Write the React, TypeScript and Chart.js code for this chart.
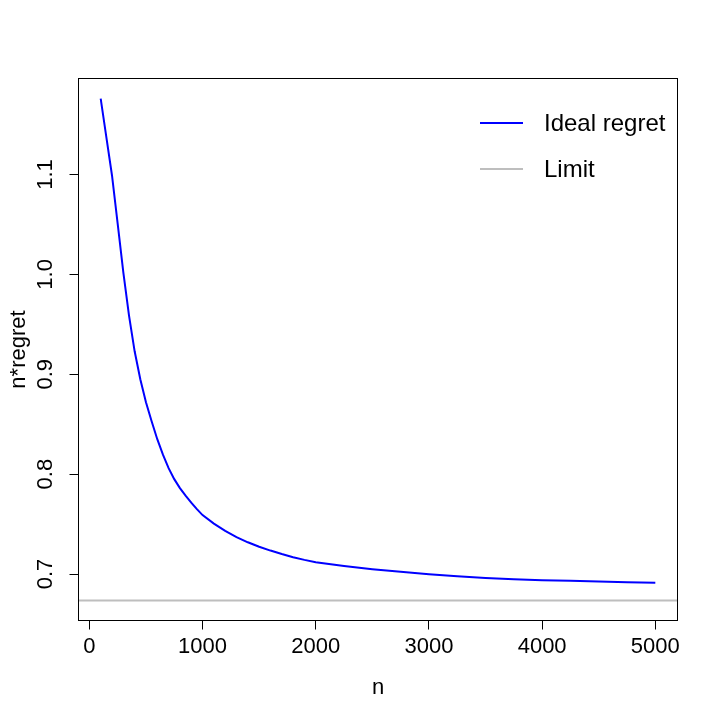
import React, { useEffect, useRef } from "react";
import { Chart, registerables } from "chart.js";

Chart.register(...registerables);

const nValues = [100, 150, 200, 250, 300, 350, 400, 450, 500, 550, 600, 650, 700, 750, 800, 850, 900, 950, 1000, 1100, 1200, 1300, 1400, 1500, 1600, 1700, 1800, 1900, 2000, 2250, 2500, 2750, 3000, 3250, 3500, 3750, 4000, 4250, 4500, 4750, 5000];
const idealRegret = [1.176, 1.1375, 1.099, 1.0507, 1.002, 0.959, 0.923, 0.895, 0.872, 0.853, 0.835, 0.8195, 0.806, 0.795, 0.786, 0.7785, 0.7715, 0.765, 0.759, 0.7505, 0.7432, 0.737, 0.7318, 0.7273, 0.7235, 0.72, 0.7169, 0.7142, 0.7118, 0.708, 0.7048, 0.7022, 0.6998, 0.6978, 0.6961, 0.6948, 0.6939, 0.6932, 0.6926, 0.6919, 0.6912];
const limitValue = 0.6736;
const xTicks = [0, 1000, 2000, 3000, 4000, 5000];
const yTicks = [0.7, 0.8, 0.9, 1.0, 1.1];
const yTickLabels = ["0.7", "0.8", "0.9", "1.0", "1.1"];
const xMin = -96;
const xMax = 5196;
const yMin = 0.6535;
const yMax = 1.1961;
const legendLabels = ["Ideal regret", "Limit"];
const xTitle = "n";
const yTitle = "n*regret";

const FONT = "22px 'Liberation Sans', Arial, sans-serif";
const LEGEND_FONT = "24px 'Liberation Sans', Arial, sans-serif";

const rPlot = {
  id: "rPlot",
  afterDraw(chart: any) {
    const ctx = chart.ctx;
    const a = chart.chartArea;
    const xs = chart.scales.x;
    const ys = chart.scales.y;
    ctx.save();
    ctx.strokeStyle = "#000";
    ctx.lineWidth = 1;
    ctx.strokeRect(a.left, a.top, a.right - a.left, a.bottom - a.top);
    ctx.fillStyle = "#000";
    ctx.font = FONT;
    ctx.textAlign = "center";
    ctx.textBaseline = "middle";
    xTicks.forEach((v) => {
      ctx.fillText(String(v), xs.getPixelForValue(v), 647);
    });
    yTicks.forEach((v, i) => {
      ctx.save();
      ctx.translate(46, ys.getPixelForValue(v));
      ctx.rotate(-Math.PI / 2);
      ctx.fillText(yTickLabels[i], 0, 0);
      ctx.restore();
    });
    ctx.fillText(xTitle, (a.left + a.right) / 2, 688);
    ctx.save();
    ctx.translate(19, (a.top + a.bottom) / 2);
    ctx.rotate(-Math.PI / 2);
    ctx.fillText(yTitle, 0, 0);
    ctx.restore();
    // legend
    const colors = ["#0000ff", "#bebebe"];
    const ly = [123, 169];
    ctx.lineWidth = 2;
    ctx.font = LEGEND_FONT;
    legendLabels.forEach((lab, i) => {
      ctx.strokeStyle = colors[i];
      ctx.beginPath();
      ctx.moveTo(480, ly[i]);
      ctx.lineTo(523, ly[i]);
      ctx.stroke();
      ctx.textAlign = "left";
      ctx.fillStyle = "#000";
      ctx.fillText(lab, 544, ly[i] + 1.5);
    });
    ctx.restore();
  },
};

export default function App() {
  const ref = useRef<HTMLCanvasElement | null>(null);
  useEffect(() => {
    if (!ref.current) return;
    const chart = new Chart(ref.current, {
      type: "line",
      data: {
        datasets: [
          {
            label: legendLabels[0],
            data: nValues.map((n, i) => ({ x: n, y: idealRegret[i] })),
            borderColor: "#0000ff",
            borderWidth: 2,
            pointRadius: 0,
            tension: 0,
            fill: false,
          },
          {
            label: legendLabels[1],
            data: [
              { x: xMin, y: limitValue },
              { x: xMax, y: limitValue },
            ],
            borderColor: "#bebebe",
            borderWidth: 2,
            pointRadius: 0,
            fill: false,
          },
        ],
      },
      options: {
        animation: false,
        responsive: false,
        maintainAspectRatio: false,
        events: [],
        layout: { padding: { left: 0, right: 40.5, top: 78.5, bottom: 0 } },
        plugins: { legend: { display: false }, tooltip: { enabled: false } },
        scales: {
          x: {
            type: "linear",
            min: xMin,
            max: xMax,
            afterBuildTicks: (s: any) => {
              s.ticks = xTicks.map((v) => ({ value: v }));
            },
            afterFit: (s: any) => {
              s.height = 97.5;
            },
            ticks: { display: false },
            border: { display: false },
            grid: { drawOnChartArea: false, drawTicks: true, tickLength: 9, color: "#000", lineWidth: 1 },
          },
          y: {
            type: "linear",
            min: yMin,
            max: yMax,
            afterBuildTicks: (s: any) => {
              s.ticks = yTicks.map((v) => ({ value: v }));
            },
            afterFit: (s: any) => {
              s.width = 78.5;
            },
            ticks: { display: false },
            border: { display: false },
            grid: { drawOnChartArea: false, drawTicks: true, tickLength: 9, color: "#000", lineWidth: 1 },
          },
        },
      },
      plugins: [rPlot],
    });
    return () => chart.destroy();
  }, []);
  return (
    <div style={{ position: "fixed", left: 0, top: 0, width: 718, height: 718, background: "#fff" }}>
      <canvas ref={ref} width={718} height={718} style={{ width: 718, height: 718 }} />
    </div>
  );
}
